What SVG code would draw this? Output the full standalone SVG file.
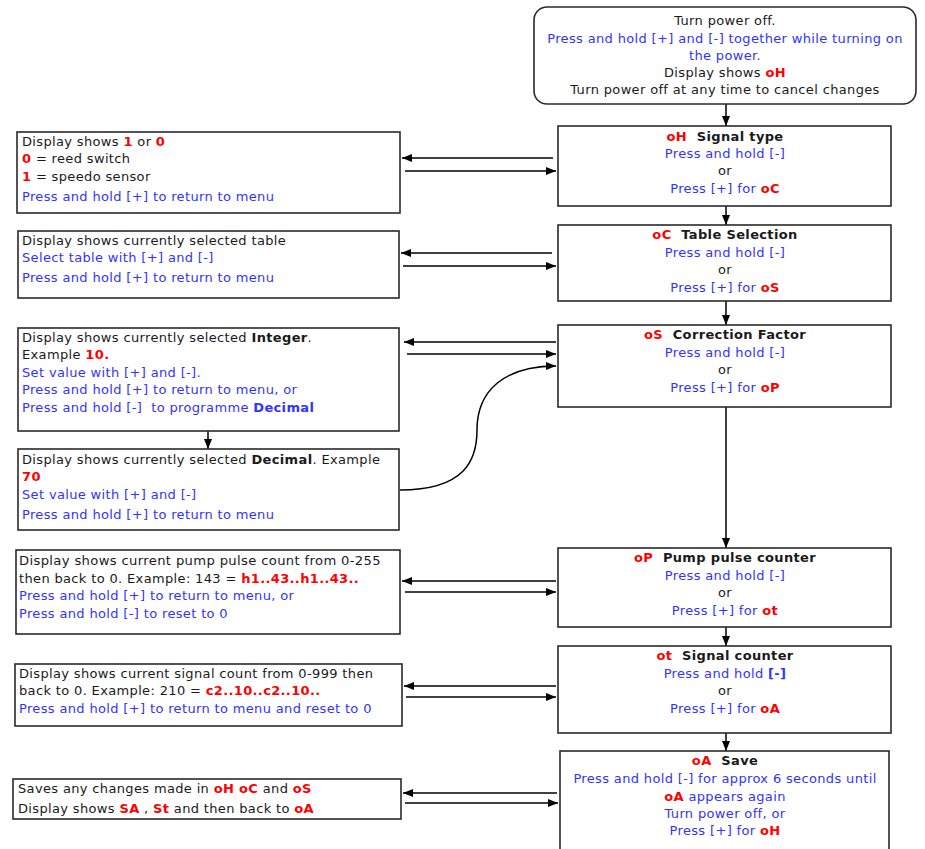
<svg xmlns="http://www.w3.org/2000/svg" width="925" height="849" viewBox="0 0 925 849">
<style>
text{font-family:"DejaVu Sans",Verdana,sans-serif;font-size:13px;letter-spacing:0.35px;fill:#1a1a1a}
.c{text-anchor:middle}
.b{fill:#3333ff}
.r{fill:#ff0000;font-weight:bold}
.k{font-weight:bold}
.box{fill:#fff;stroke:#2a2a2a;stroke-width:1.6}
.ln{fill:none;stroke:#000;stroke-width:1.5}
</style>
<defs>
<marker id="ah" markerWidth="10" markerHeight="8" refX="10" refY="4" orient="auto" markerUnits="userSpaceOnUse">
<path d="M0,0 L10,4 L0,8 Z" fill="#000"/>
</marker>
</defs>
<rect width="925" height="849" fill="#fff"/>

<g id="connectors">
<line class="ln" x1="726" y1="104" x2="726" y2="126" marker-end="url(#ah)"/>
<line class="ln" x1="726" y1="206" x2="726" y2="225" marker-end="url(#ah)"/>
<line class="ln" x1="726" y1="301" x2="726" y2="325" marker-end="url(#ah)"/>
<line class="ln" x1="726" y1="407" x2="726" y2="548" marker-end="url(#ah)"/>
<line class="ln" x1="726" y1="627" x2="726" y2="646" marker-end="url(#ah)"/>
<line class="ln" x1="726" y1="733" x2="726" y2="751" marker-end="url(#ah)"/>
<line class="ln" x1="553" y1="158" x2="402" y2="158" marker-end="url(#ah)"/>
<line class="ln" x1="405" y1="171" x2="556" y2="171" marker-end="url(#ah)"/>
<line class="ln" x1="552" y1="253" x2="401" y2="253" marker-end="url(#ah)"/>
<line class="ln" x1="403" y1="266" x2="556" y2="266" marker-end="url(#ah)"/>
<line class="ln" x1="556" y1="342" x2="404" y2="342" marker-end="url(#ah)"/>
<line class="ln" x1="407" y1="354" x2="556" y2="354" marker-end="url(#ah)"/>
<path class="ln" d="M400,490 C465,490 477,460 477,430 C477,390 505,366 556,366" marker-end="url(#ah)"/>
<line class="ln" x1="208" y1="431" x2="208" y2="449" marker-end="url(#ah)"/>
<line class="ln" x1="556" y1="581" x2="402" y2="581" marker-end="url(#ah)"/>
<line class="ln" x1="405" y1="592" x2="556" y2="592" marker-end="url(#ah)"/>
<line class="ln" x1="556" y1="686" x2="404" y2="686" marker-end="url(#ah)"/>
<line class="ln" x1="406" y1="697" x2="556" y2="697" marker-end="url(#ah)"/>
<line class="ln" x1="557" y1="793" x2="403" y2="793" marker-end="url(#ah)"/>
<line class="ln" x1="405" y1="803" x2="558" y2="803" marker-end="url(#ah)"/>
</g>

<g id="start">
<rect class="box" x="534" y="7" width="382" height="97" rx="13"/>
<text class="c" x="725" y="25">Turn power off.</text>
<text class="c b" x="725" y="43">Press and hold [+] and [-] together while turning on</text>
<text class="c b" x="725" y="60">the power.</text>
<text class="c" x="725" y="77">Display shows <tspan class="r">oH</tspan></text>
<text class="c" x="725" y="94">Turn power off at any time to cancel changes</text>
</g>

<g id="oH">
<rect class="box" x="558" y="126" width="333" height="80"/>
<text class="c" x="725" y="141" xml:space="preserve"><tspan class="r">oH</tspan><tspan class="k">  Signal type</tspan></text>
<text class="c b" x="725" y="158">Press and hold [-]</text>
<text class="c" x="725" y="175">or</text>
<text class="c b" x="725" y="193">Press [+] for <tspan class="r">oC</tspan></text>
</g>

<g id="oC">
<rect class="box" x="558" y="225" width="333" height="76"/>
<text class="c" x="725" y="239" xml:space="preserve"><tspan class="r">oC</tspan><tspan class="k">  Table Selection</tspan></text>
<text class="c b" x="725" y="257">Press and hold [-]</text>
<text class="c" x="725" y="274">or</text>
<text class="c b" x="725" y="292">Press [+] for <tspan class="r">oS</tspan></text>
</g>

<g id="oS">
<rect class="box" x="558" y="325" width="333" height="82"/>
<text class="c" x="725" y="339" xml:space="preserve"><tspan class="r">oS</tspan><tspan class="k">  Correction Factor</tspan></text>
<text class="c b" x="725" y="357">Press and hold [-]</text>
<text class="c" x="725" y="374">or</text>
<text class="c b" x="725" y="392">Press [+] for <tspan class="r">oP</tspan></text>
</g>

<g id="oP">
<rect class="box" x="558" y="548" width="333" height="79"/>
<text class="c" x="725" y="562" xml:space="preserve"><tspan class="r">oP</tspan><tspan class="k">  Pump pulse counter</tspan></text>
<text class="c b" x="725" y="580">Press and hold [-]</text>
<text class="c" x="725" y="597">or</text>
<text class="c b" x="725" y="615">Press [+] for <tspan class="r">ot</tspan></text>
</g>

<g id="ot">
<rect class="box" x="558" y="646" width="333" height="87"/>
<text class="c" x="725" y="660" xml:space="preserve"><tspan class="r">ot</tspan><tspan class="k">  Signal counter</tspan></text>
<text class="c b" x="725" y="678">Press and hold <tspan class="k">[-]</tspan></text>
<text class="c" x="725" y="695">or</text>
<text class="c b" x="725" y="713">Press [+] for <tspan class="r">oA</tspan></text>
</g>

<g id="oA">
<rect class="box" x="560" y="751" width="329" height="110"/>
<text class="c" x="725" y="765" xml:space="preserve"><tspan class="r">oA</tspan><tspan class="k">  Save</tspan></text>
<text class="c b" x="725" y="783">Press and hold [-] for approx 6 seconds until</text>
<text class="c b" x="725" y="801"><tspan class="r">oA</tspan> appears again</text>
<text class="c b" x="725" y="818">Turn power off, or</text>
<text class="c b" x="725" y="835">Press [+] for <tspan class="r">oH</tspan></text>
</g>

<g id="signal-info">
<rect class="box" x="17" y="132" width="383" height="81"/>
<text x="22" y="146">Display shows <tspan class="r">1</tspan> or <tspan class="r">0</tspan></text>
<text x="22" y="163"><tspan class="r">0</tspan> = reed switch</text>
<text x="22" y="181"><tspan class="r">1</tspan> = speedo sensor</text>
<text class="b" x="22" y="201">Press and hold [+] to return to menu</text>
</g>

<g id="table-info">
<rect class="box" x="18" y="231" width="381" height="67"/>
<text x="22" y="245">Display shows currently selected table</text>
<text class="b" x="22" y="262">Select table with [+] and [-]</text>
<text class="b" x="22" y="282">Press and hold [+] to return to menu</text>
</g>

<g id="integer-info">
<rect class="box" x="18" y="328" width="381" height="103"/>
<text x="22" y="342">Display shows currently selected <tspan class="k">Integer</tspan>.</text>
<text x="22" y="359">Example <tspan class="r">10.</tspan></text>
<text class="b" x="22" y="377">Set value with [+] and [-].</text>
<text class="b" x="22" y="394">Press and hold [+] to return to menu, or</text>
<text class="b" x="22" y="412" xml:space="preserve">Press and hold [-]  to programme <tspan class="k">Decimal</tspan></text>
</g>

<g id="decimal-info">
<rect class="box" x="18" y="449" width="381" height="81"/>
<text x="22" y="464">Display shows currently selected <tspan class="k">Decimal</tspan>. Example</text>
<text class="r" x="22" y="481">70</text>
<text class="b" x="22" y="499">Set value with [+] and [-]</text>
<text class="b" x="22" y="519">Press and hold [+] to return to menu</text>
</g>

<g id="pump-info">
<rect class="box" x="16" y="550" width="384" height="84"/>
<text x="19" y="565" textLength="362" lengthAdjust="spacingAndGlyphs">Display shows current pump pulse count from 0-255</text>
<text x="19" y="583">then back to 0. Example: 143 = <tspan class="r">h1..43..h1..43..</tspan></text>
<text class="b" x="19" y="600">Press and hold [+] to return to menu, or</text>
<text class="b" x="19" y="618">Press and hold [-] to reset to 0</text>
</g>

<g id="count-info">
<rect class="box" x="15" y="664" width="387" height="62"/>
<text x="19" y="678">Display shows current signal count from 0-999 then</text>
<text x="19" y="695">back to 0. Example: 210 = <tspan class="r">c2..10..c2..10..</tspan></text>
<text class="b" x="19" y="713">Press and hold [+] to return to menu and reset to 0</text>
</g>

<g id="save-info">
<rect class="box" x="13" y="779" width="388" height="40"/>
<text x="18" y="793">Saves any changes made in <tspan class="r">oH oC</tspan> and <tspan class="r">oS</tspan></text>
<text x="18" y="813">Display shows <tspan class="r">SA</tspan> , <tspan class="r">St</tspan> and then back to <tspan class="r">oA</tspan></text>
</g>
</svg>
